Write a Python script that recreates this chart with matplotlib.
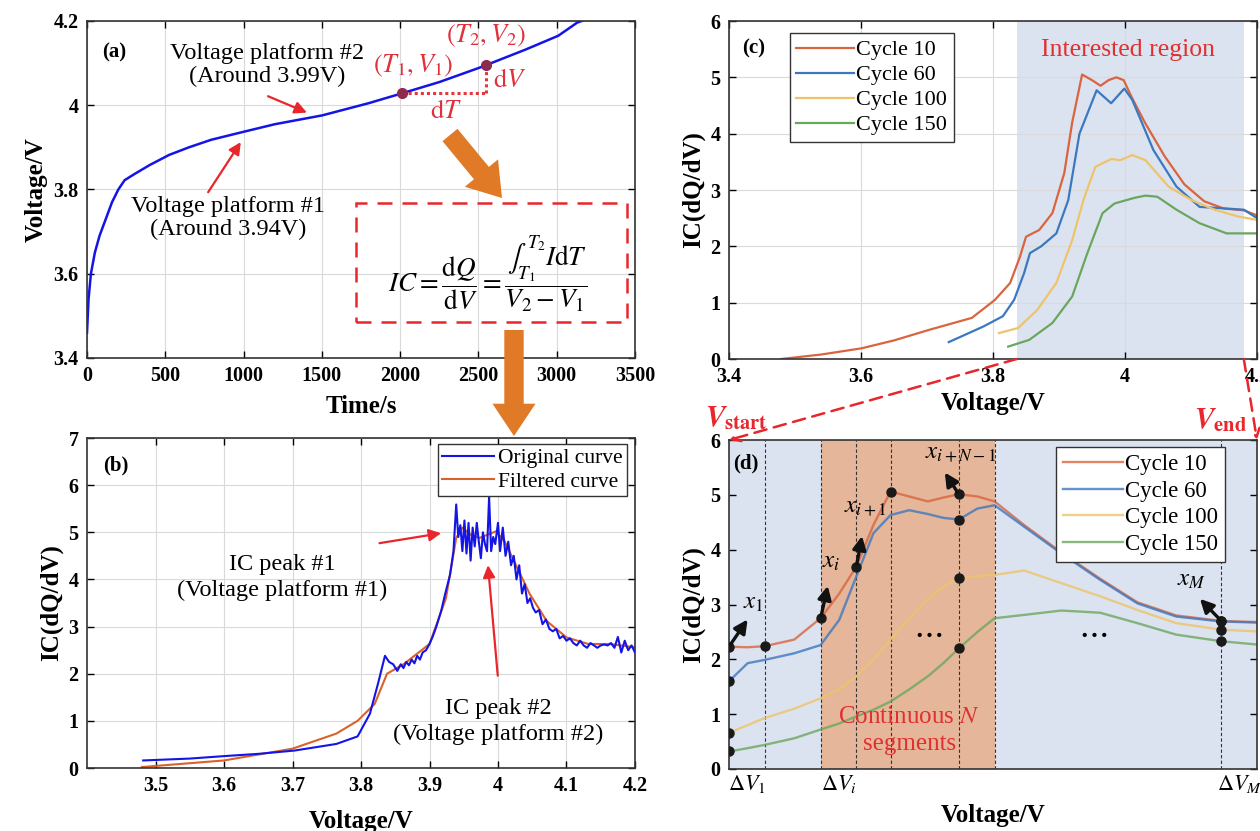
import numpy as np
import matplotlib.pyplot as plt
from matplotlib.patches import FancyArrowPatch, ConnectionPatch, Rectangle
from matplotlib.ticker import FuncFormatter

plt.rcParams['font.family'] = ['Liberation Serif', 'DejaVu Serif']
plt.rcParams['mathtext.fontset'] = 'stix'

# (a) charging voltage curve
time_s = [0, 10, 25, 50, 80, 120, 160, 200, 240, 300, 400, 524, 650, 793, 1000,
          1200, 1503, 1800, 2000, 2250, 2513, 2800, 3010, 3130, 3300]
volt_a = [3.46, 3.54, 3.6, 3.65, 3.69, 3.73, 3.77, 3.80, 3.822, 3.836, 3.858, 3.882, 3.9, 3.918, 3.937,
          3.955, 3.976, 4.005, 4.027, 4.055, 4.09, 4.132, 4.165, 4.196, 4.22]
T1, T2 = 2011, 2548

# (b) IC curve, raw and filtered
orig_v = [3.482, 3.55, 3.598, 3.65, 3.703, 3.764, 3.795, 3.813, 3.825, 3.835,
          3.841, 3.847, 3.853, 3.858, 3.862, 3.866, 3.870, 3.874, 3.878, 3.882,
          3.886, 3.890, 3.895, 3.900, 3.905, 3.910, 3.917, 3.923, 3.930, 3.935,
          3.939, 3.942, 3.945, 3.948, 3.951, 3.954, 3.957, 3.960, 3.963, 3.966,
          3.969, 3.972, 3.975, 3.978, 3.981, 3.984, 3.987, 3.990, 3.993, 3.996,
          4.000, 4.003, 4.007, 4.011, 4.015, 4.019, 4.023, 4.027, 4.031, 4.035,
          4.039, 4.043, 4.047, 4.051, 4.055, 4.060, 4.065, 4.070, 4.075, 4.080,
          4.085, 4.090, 4.095, 4.100, 4.105, 4.110, 4.115, 4.120, 4.125, 4.130,
          4.135, 4.140, 4.145, 4.150, 4.155, 4.160, 4.165, 4.170, 4.175, 4.180,
          4.185, 4.190, 4.195, 4.200]
orig_ic = [0.16, 0.2, 0.25, 0.3, 0.37, 0.51, 0.67, 1.15, 1.8, 2.38,
           2.25, 2.2, 2.06, 2.2, 2.12, 2.25, 2.18, 2.3, 2.22, 2.38,
           2.3, 2.45, 2.5, 2.63, 2.8, 3.0, 3.33, 3.7, 4.1, 4.6,
           5.59, 4.9, 5.15, 4.6, 5.25, 4.55, 5.2, 4.4, 5.1, 4.7,
           5.2, 4.8, 4.45, 5.0, 4.75, 4.6, 5.75, 4.6, 4.9, 4.75,
           5.2, 4.6, 5.1, 4.5, 4.8, 4.3, 4.5, 4.0, 4.3, 3.7,
           3.9, 3.5, 3.6, 3.4, 3.3, 3.35, 3.05, 3.15, 2.95, 2.9,
           2.95, 2.75, 2.8, 2.7, 2.75, 2.65, 2.6, 2.7, 2.6, 2.55,
           2.65, 2.6, 2.55, 2.6, 2.62, 2.6, 2.65, 2.55, 2.78, 2.45,
           2.7, 2.5, 2.6, 2.45]
filt_v = [3.48, 3.6, 3.70, 3.764, 3.795, 3.82, 3.838, 3.862, 3.9, 3.924, 3.939, 3.948,
          3.96, 3.973, 3.985, 3.997, 4.01, 4.028, 4.046, 4.071, 4.1, 4.132, 4.163, 4.2]
filt_ic = [0.02, 0.16, 0.41, 0.73, 1.0, 1.36, 2.0, 2.2, 2.63, 3.6, 4.88, 5.1,
           4.95, 4.88, 4.95, 5.02, 4.8, 4.25, 3.7, 3.12, 2.77, 2.63, 2.63, 2.56]

# (c) IC curves at different cycles
cycle_labels = ['Cycle 10', 'Cycle 60', 'Cycle 100', 'Cycle 150']
c10_v = [3.479, 3.54, 3.601, 3.65, 3.704, 3.768, 3.803, 3.826, 3.841, 3.85, 3.87, 3.89, 3.908, 3.92,
         3.935, 3.95, 3.963, 3.975, 3.987, 3.998, 4.01, 4.03, 4.06, 4.09, 4.12, 4.15, 4.18, 4.2]
c10_ic = [0.0, 0.08, 0.19, 0.33, 0.52, 0.73, 1.05, 1.35, 1.82, 2.17, 2.29, 2.59, 3.3, 4.2,
          5.05, 4.95, 4.85, 4.95, 5.0, 4.95, 4.65, 4.2, 3.6, 3.1, 2.8, 2.67, 2.64, 2.55]
c60_v = [3.733, 3.786, 3.815, 3.832, 3.847, 3.856, 3.873, 3.896, 3.914, 3.931, 3.957, 3.979, 3.999,
         4.011, 4.043, 4.078, 4.113, 4.142, 4.18, 4.2]
c60_ic = [0.3, 0.58, 0.76, 1.05, 1.52, 1.88, 2.0, 2.23, 2.82, 4.0, 4.77, 4.54, 4.8,
          4.6, 3.71, 3.06, 2.7, 2.68, 2.65, 2.5]
c100_v = [3.809, 3.838, 3.867, 3.896, 3.92, 3.937, 3.955, 3.979, 3.993, 4.011, 4.031, 4.066, 4.101,
          4.136, 4.171, 4.2]
c100_ic = [0.46, 0.55, 0.87, 1.35, 2.11, 2.82, 3.41, 3.55, 3.53, 3.62, 3.53, 3.06, 2.82,
           2.65, 2.53, 2.47]
c150_v = [3.823, 3.855, 3.89, 3.92, 3.943, 3.966, 3.984, 4.014, 4.031, 4.049, 4.078, 4.113, 4.154, 4.2]
c150_ic = [0.22, 0.34, 0.64, 1.11, 1.88, 2.59, 2.76, 2.86, 2.9, 2.88, 2.65, 2.41, 2.23, 2.23]

# (d) zoom on the interested region, segmented
v_start, v_end = 3.84, 4.18
d_v = [3.84, 3.852, 3.863, 3.882, 3.899, 3.911, 3.922, 3.933, 3.944, 3.956, 3.968, 3.978,
       3.988, 4.0, 4.011, 4.03, 4.054, 4.079, 4.103, 4.128, 4.157, 4.18]
d10 = [2.23, 2.22, 2.24, 2.36, 2.75, 3.2, 3.69, 4.45, 5.06, 4.97, 4.88, 4.95,
       5.01, 4.97, 4.88, 4.45, 3.95, 3.47, 3.04, 2.8, 2.7, 2.68]
d60 = [1.6, 1.93, 1.99, 2.11, 2.26, 2.72, 3.51, 4.3, 4.63, 4.72, 4.65, 4.58,
       4.55, 4.75, 4.81, 4.42, 3.93, 3.45, 3.02, 2.78, 2.69, 2.67]
d100 = [0.66, 0.8, 0.93, 1.1, 1.29, 1.45, 1.69, 2.0, 2.36, 2.75, 3.1, 3.33,
        3.48, 3.52, 3.54, 3.62, 3.39, 3.15, 2.9, 2.66, 2.54, 2.51]
d150 = [0.32, 0.38, 0.44, 0.56, 0.72, 0.83, 0.96, 1.08, 1.23, 1.45, 1.69, 1.93,
        2.2, 2.5, 2.75, 2.81, 2.89, 2.85, 2.66, 2.45, 2.33, 2.27]
seg_edges = [3.84, 3.863, 3.899, 3.922, 3.944, 3.988, 4.011, 4.157, 4.18]

colors = ['#D9653F', '#3C78C0', '#EDC46A', '#6AA75E']
red = '#E8262B'
W, H = 1260, 831

fig = plt.figure(figsize=(12.6, 8.31), dpi=100)


def box(l, t, r, b):
    return [l / W, 1 - b / H, (r - l) / W, (b - t) / H]


def fp(x, y):
    return (x / W, 1 - y / H)


ax_a = fig.add_axes(box(87, 21, 635, 358))
ax_b = fig.add_axes(box(87, 438, 635, 768))
ax_c = fig.add_axes(box(729, 21, 1257, 359))
ax_d = fig.add_axes(box(729, 440, 1257, 769))

fmt = FuncFormatter(lambda v, p: f'{v:g}')


def style(ax, grid=True):
    ax.tick_params(direction='in', top=True, right=True, length=5, width=1,
                   labelsize=14.5, pad=6)
    for s in ax.spines.values():
        s.set_linewidth(1.2)
        s.set_color('#333333')
    if grid:
        ax.grid(True, color='#DADADA', lw=0.8)
    ax.set_axisbelow(True)
    ax.xaxis.set_major_formatter(fmt)
    ax.yaxis.set_major_formatter(fmt)
    for lab in ax.get_xticklabels() + ax.get_yticklabels():
        lab.set_fontweight('bold')


lab_kw = dict(fontsize=18, fontweight='bold')
ann = 17.5

# ---------- (a)
ax_a.plot(time_s, volt_a, color='#1414E6', lw=1.8)
ax_a.set_xlim(0, 3500)
ax_a.set_ylim(3.4, 4.2)
ax_a.set_xticks(np.arange(0, 3501, 500))
ax_a.set_yticks([3.4, 3.6, 3.8, 4.0, 4.2])
style(ax_a)
ax_a.set_xlabel('Time/s', labelpad=6, **lab_kw)
ax_a.set_ylabel('Voltage/V', labelpad=4, **lab_kw)

V1 = np.interp(T1, time_s, volt_a)
V2 = np.interp(T2, time_s, volt_a)
ax_a.plot([T1, T2], [V1, V1], ls=(0, (1, 1)), color='#E8343C', lw=2.2)
ax_a.plot([T2, T2], [V1, V2], ls=(0, (1, 1)), color='#E8343C', lw=2.2)
ax_a.plot([T1, T2], [V1, V2], 'o', ms=7, color='#8E2A4E', ls='none', zorder=4)
ax_a.text(2085, 4.094, r'$(T_1,V_1)$', color='#E0303A', fontsize=19, ha='center', va='center')
ax_a.text(2548, 4.165, r'$(T_2,V_2)$', color='#E0303A', fontsize=19, ha='center', va='center')
ax_a.text(2595, 4.058, r'$\mathrm{d}V$', color='#E0303A', fontsize=19, ha='left', va='center')
ax_a.text(2293, 3.984, r'$\mathrm{d}T$', color='#E0303A', fontsize=19, ha='center', va='center')

ax_a.text(94, 4.125, '(a)', fontweight='bold', fontsize=15, ha='left', va='center')
ax_a.text(1150, 4.096, 'Voltage platform #2\n(Around 3.99V)', ha='center', va='center',
          fontsize=ann, linespacing=1.1)
ax_a.annotate('', xy=(1421, 3.98), xytext=(1140, 4.024),
              arrowprops=dict(arrowstyle='-|>', color=red, lw=1.6, mutation_scale=18))
ax_a.text(900, 3.733, 'Voltage platform #1\n(Around 3.94V)', ha='center', va='center',
          fontsize=ann, linespacing=1.1)
ax_a.annotate('', xy=(992, 3.918), xytext=(764, 3.788),
              arrowprops=dict(arrowstyle='-|>', color=red, lw=1.6, mutation_scale=18))

ax_a.add_patch(Rectangle((1718, 3.485), 1731, 0.283, fill=False, ls=(0, (6, 4)),
                         ec=red, lw=1.8, zorder=3))
ax_a.text(2561, 3.6, r'$IC=\dfrac{\mathrm{d}Q}{\mathrm{d}V}=\dfrac{\int_{T_1}^{T_2}I\mathrm{d}T}{V_2-V_1}$',
          fontsize=19.5, ha='center', va='center')

# fat orange arrows
big = 'simple,head_length=0.75,head_width=1.0,tail_width=0.45'
for p0, p1 in [((450, 135), (502, 198)), ((514, 330), (514, 436))]:
    fig.add_artist(FancyArrowPatch(fp(*p0), fp(*p1), transform=fig.transFigure,
                                   arrowstyle=big, mutation_scale=31, color='#E07A26',
                                   lw=0, shrinkA=0, shrinkB=0, zorder=10))

# ---------- (b)
ax_b.plot(orig_v, orig_ic, color='#1414E6', lw=1.5, label='Original curve', zorder=3)
ax_b.plot(filt_v, filt_ic, color='#D9622B', lw=1.5, label='Filtered curve', zorder=2)
ax_b.set_xlim(3.4, 4.2)
ax_b.set_ylim(0, 7)
ax_b.set_xticks([3.5, 3.6, 3.7, 3.8, 3.9, 4.0, 4.1, 4.2])
ax_b.set_yticks(range(0, 8))
style(ax_b)
ax_b.set_xlabel('Voltage/V', labelpad=10, **lab_kw)
ax_b.set_ylabel('IC(dQ/dV)', labelpad=4, **lab_kw)
ax_b.legend(loc='upper right', bbox_to_anchor=(0.985, 0.982), fontsize=15.5, fancybox=False,
            edgecolor='#333333', framealpha=1, handlelength=2.4, handletextpad=0.2,
            borderpad=0.2, labelspacing=0.15, borderaxespad=0)
ax_b.text(3.423, 6.41, '(b)', fontweight='bold', fontsize=15, ha='left', va='center')
ax_b.text(3.685, 4.05, 'IC peak #1\n(Voltage platform #1)', ha='center', va='center',
          fontsize=ann, linespacing=1.3)
ax_b.annotate('', xy=(3.921, 4.99), xytext=(3.823, 4.76),
              arrowprops=dict(arrowstyle='-|>', color=red, lw=1.6, mutation_scale=18))
ax_b.text(4.0, 0.98, 'IC peak #2\n(Voltage platform #2)', ha='center', va='center',
          fontsize=ann, linespacing=1.3)
ax_b.annotate('', xy=(3.985, 4.36), xytext=(4.0, 1.9),
              arrowprops=dict(arrowstyle='-|>', color=red, lw=1.6, mutation_scale=18))

# ---------- (c)
ax_c.axvspan(3.836, v_end, color='#DCE3F0', lw=0, zorder=0)
for v, ic, c, lab in zip([c10_v, c60_v, c100_v, c150_v], [c10_ic, c60_ic, c100_ic, c150_ic],
                         colors, cycle_labels):
    ax_c.plot(v, ic, color=c, lw=1.6, label=lab)
ax_c.set_xlim(3.4, 4.2)
ax_c.set_ylim(0, 6)
ax_c.set_xticks([3.4, 3.6, 3.8, 4.0, 4.2])
ax_c.set_yticks(range(0, 7))
style(ax_c)
ax_c.set_xlabel('Voltage/V', labelpad=3, **lab_kw)
ax_c.set_ylabel('IC(dQ/dV)', labelpad=4, **lab_kw)
ax_c.legend(loc='upper left', bbox_to_anchor=(0.115, 0.964), fontsize=16, fancybox=False,
            edgecolor='#333333', framealpha=1, handlelength=2.6, handletextpad=0.1,
            borderpad=0.3, labelspacing=0.2, borderaxespad=0)
ax_c.text(3.42, 5.52, '(c)', fontweight='bold', fontsize=15, ha='left', va='center')
ax_c.text(4.005, 5.49, 'Interested region', color='#E03030', fontsize=18.5, ha='center', va='center')

# ---------- (d)
ax_d.set_facecolor('#DCE3F0')
ax_d.axvspan(seg_edges[2], seg_edges[6], color='#E5B699', lw=0, zorder=0)
for v in seg_edges[1:-1]:
    ax_d.axvline(v, color='#333333', ls=(0, (3, 2)), lw=0.8, zorder=1)
for ic, c, lab in zip([d10, d60, d100, d150], colors, cycle_labels):
    ax_d.plot(d_v, ic, color=c, lw=1.7, alpha=0.8, label=lab, zorder=2)

dot_kw = dict(ls='none', marker='o', ms=6.5, color='#1A1A1A', zorder=5)
for v in [seg_edges[0], seg_edges[5], seg_edges[7]]:
    ax_d.plot([v] * 4, [np.interp(v, d_v, ic) for ic in [d10, d60, d100, d150]], **dot_kw)
for v in seg_edges[1:5]:
    ax_d.plot([v], [np.interp(v, d_v, d10)], **dot_kw)

arr_kw = dict(arrowstyle='-|>', color='#111111', lw=2.4, mutation_scale=20)
point_lab = [(0, 3.853, 2.77, 3.856, 3.03, r'$x_1$'),
             (2, 3.904, 3.39, 3.906, 3.78, r'$x_i$'),
             (3, 3.926, 4.3, 3.928, 4.78, r'$x_{i+1}$'),
             (5, 3.978, 5.45, 3.989, 5.76, r'$x_{i+N-1}$'),
             (7, 4.142, 3.14, 4.138, 3.45, r'$x_M$')]
for k, tx, ty, lx, ly, s in point_lab:
    v = seg_edges[k]
    ax_d.annotate('', xy=(tx, ty), xytext=(v, np.interp(v, d_v, d10)), arrowprops=arr_kw, zorder=6)
    ax_d.text(lx, ly, s, fontsize=18, ha='center', va='center', zorder=6)
ax_d.text(3.968, 2.48, r'$\cdots$', fontsize=24, ha='center', va='center')
ax_d.text(4.074, 2.48, r'$\cdots$', fontsize=24, ha='center', va='center')
ax_d.text(3.956, 0.7, 'Continuous $N$\nsegments', color='#E03030', fontsize=18,
          ha='center', va='center', linespacing=1.25)

ax_d.set_xlim(v_start, v_end)
ax_d.set_ylim(0, 6)
ax_d.set_xticks([])
ax_d.set_yticks(range(0, 7))
style(ax_d, grid=False)
ax_d.tick_params(top=False, bottom=False)
ax_d.set_xlabel('Voltage/V', labelpad=25, **lab_kw)
ax_d.set_ylabel('IC(dQ/dV)', labelpad=4, **lab_kw)
xt = ax_d.get_xaxis_transform()
for (a, b), s in zip([(seg_edges[0], seg_edges[1]), (seg_edges[2], seg_edges[3]),
                      (seg_edges[7], seg_edges[8])], [r'$\Delta V_1$', r'$\Delta V_i$', r'$\Delta V_M$']):
    ax_d.text((a + b) / 2, -0.045, s, transform=xt, fontsize=16, ha='center', va='center')
ax_d.legend(loc='upper left', bbox_to_anchor=(0.62, 0.979), fontsize=16.5, fancybox=False,
            edgecolor='#333333', framealpha=1, handlelength=2.6, handletextpad=0.1,
            borderpad=0.3, labelspacing=0.25, borderaxespad=0)
ax_d.text(0.008, 0.93, '(d)', transform=ax_d.transAxes, fontweight='bold', fontsize=15,
          ha='left', va='center')

# dashed links from the interested region of (c) to (d)
for xa, xb in [(3.836, 0), (v_end, 1)]:
    fig.add_artist(ConnectionPatch(xyA=(xa, 0), coordsA=ax_c.transData, xyB=(xb, 1),
                                   coordsB=ax_d.transAxes, arrowstyle='->', ls=(0, (5, 3)),
                                   color=red, lw=1.8, mutation_scale=16, zorder=10))
ax_d.text(-0.046, 1.067, r'$\mathbfit{V}_{\mathbf{start}}$', transform=ax_d.transAxes,
          color=red, fontsize=21, ha='left', va='center')
ax_d.text(0.88, 1.061, r'$\mathbfit{V}_{\mathbf{end}}$', transform=ax_d.transAxes,
          color=red, fontsize=21, ha='left', va='center')

fig.savefig('out.png', dpi=100)
